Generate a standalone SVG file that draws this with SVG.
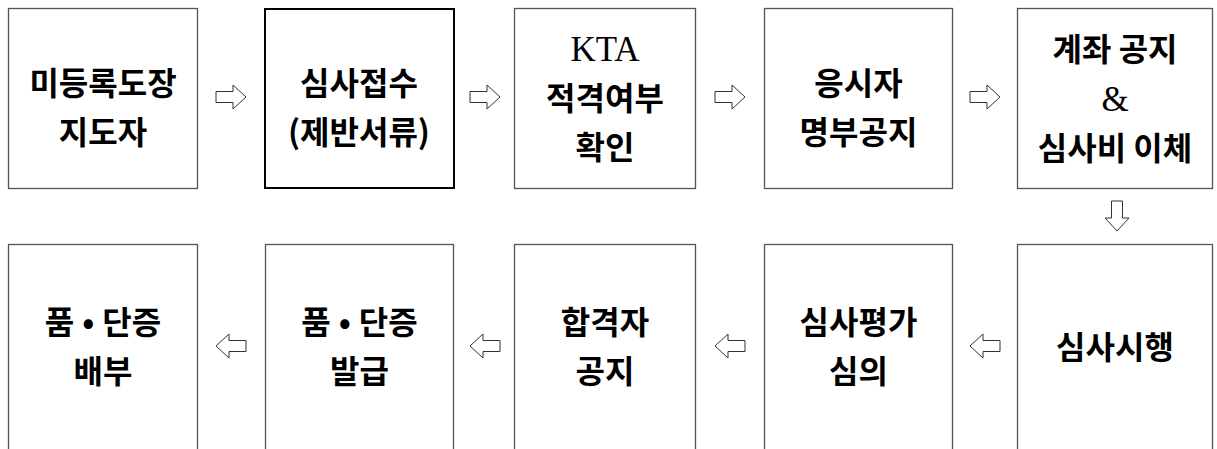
<svg xmlns="http://www.w3.org/2000/svg" xmlns:xlink="http://www.w3.org/1999/xlink" width="1217" height="449" viewBox="0 0 1217 449">
<style>
.box{fill:#fff;stroke:#555;stroke-width:1.3}
.box2{fill:#fff;stroke:#000;stroke-width:2}
.t{font-family:"Noto Sans CJK KR","Noto Sans",sans-serif;font-size:32px;font-weight:600;fill:#000;text-anchor:middle}
.s{font-family:"Liberation Serif","DejaVu Serif",serif;font-size:35px;font-weight:normal;fill:#000;text-anchor:middle}
.arr{fill:#fff;stroke:#333;stroke-width:1;stroke-linejoin:miter}
</style>
<defs>
<path id="ar" d="M-15,-5.5 H2 V-12 L15,0 L2,12 V5.5 H-15 Z"/>
</defs>
<rect width="1217" height="449" fill="#fff"/>
<g id="connectors" class="arr">
<use xlink:href="#ar" transform="translate(231,97)"/>
<use xlink:href="#ar" transform="translate(485,97)"/>
<use xlink:href="#ar" transform="translate(730,97)"/>
<use xlink:href="#ar" transform="translate(985,97)"/>
<use xlink:href="#ar" transform="translate(1117,216) rotate(90)"/>
<use xlink:href="#ar" transform="translate(231,346) scale(-1,1)"/>
<use xlink:href="#ar" transform="translate(485,346) scale(-1,1)"/>
<use xlink:href="#ar" transform="translate(730,346) scale(-1,1)"/>
<use xlink:href="#ar" transform="translate(985,346) scale(-1,1)"/>
</g>
<g id="n1"><rect class="box" x="8.5" y="8.5" width="189" height="180"/><text class="t" x="103" y="95">미등록도장</text><text class="t" x="103" y="144">지도자</text></g>
<g id="n2"><rect class="box2" x="265" y="9" width="189" height="179"/><text class="t" x="359" y="95">심사접수</text><text class="t" x="359" y="144">(제반서류)</text></g>
<g id="n3"><rect class="box" x="514.5" y="8.5" width="181" height="180"/><text class="s" x="605" y="61">KTA</text><text class="t" x="605" y="110">적격여부</text><text class="t" x="605" y="159">확인</text></g>
<g id="n4"><rect class="box" x="764.5" y="8.5" width="188" height="180"/><text class="t" x="858.5" y="95">응시자</text><text class="t" x="858.5" y="144">명부공지</text></g>
<g id="n5"><rect class="box" x="1017.5" y="8.5" width="195" height="180"/><text class="t" x="1115" y="61">계좌 공지</text><text class="s" x="1115" y="111">&amp;</text><text class="t" x="1115" y="160">심사비 이체</text></g>
<g id="n6"><rect class="box" x="8.5" y="244.5" width="189" height="220"/><text class="t" x="103" y="334">품<tspan dx="8">•</tspan><tspan dx="8">단증</tspan></text><text class="t" x="103" y="383">배부</text></g>
<g id="n7"><rect class="box" x="265.5" y="244.5" width="188" height="220"/><text class="t" x="359.5" y="334">품<tspan dx="8">•</tspan><tspan dx="8">단증</tspan></text><text class="t" x="359.5" y="383">발급</text></g>
<g id="n8"><rect class="box" x="514.5" y="244.5" width="181" height="220"/><text class="t" x="605" y="334">합격자</text><text class="t" x="605" y="383">공지</text></g>
<g id="n9"><rect class="box" x="764.5" y="244.5" width="188" height="220"/><text class="t" x="858.5" y="334">심사평가</text><text class="t" x="858.5" y="383">심의</text></g>
<g id="n10"><rect class="box" x="1017.5" y="244.5" width="195" height="220"/><text class="t" x="1115" y="359">심사시행</text></g>
</svg>
